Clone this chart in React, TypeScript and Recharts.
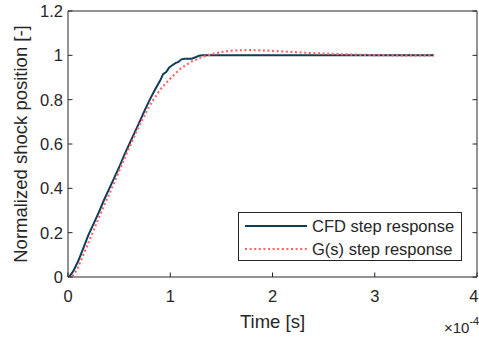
import React from "react";
import { LineChart, Line, XAxis, YAxis, Legend } from "recharts";

// Time axis values are in units of 1e-4 s (the axis carries a ×10^-4 multiplier).
const cfdTime = [0, 0.01, 0.05, 0.1, 0.15, 0.2, 0.25, 0.3, 0.35, 0.4, 0.45, 0.5, 0.55, 0.6, 0.65, 0.7, 0.75, 0.8, 0.85, 0.9, 0.93, 0.96, 0.99, 1.02, 1.05, 1.08, 1.11, 1.14, 1.21, 1.24, 1.28, 1.32, 3.58];
const cfdValue = [0, 0, 0.025, 0.072, 0.13, 0.19, 0.24, 0.29, 0.345, 0.395, 0.445, 0.495, 0.55, 0.6, 0.65, 0.7, 0.752, 0.8, 0.845, 0.885, 0.915, 0.925, 0.945, 0.955, 0.965, 0.97, 0.982, 0.985, 0.985, 0.99, 0.998, 1.0, 1.0];

const gsTime = [0, 0.03, 0.06, 0.1, 0.15, 0.2, 0.25, 0.3, 0.35, 0.4, 0.5, 0.6, 0.7, 0.8, 0.9, 1.0, 1.1, 1.2, 1.3, 1.4, 1.5, 1.6, 1.75, 1.9, 2.0, 2.2, 2.4, 2.6, 2.8, 3.0, 3.2, 3.4, 3.58];
const gsValue = [0, 0, 0.012, 0.045, 0.1, 0.155, 0.21, 0.265, 0.32, 0.37, 0.478, 0.585, 0.685, 0.775, 0.845, 0.895, 0.94, 0.97, 0.99, 1.005, 1.015, 1.021, 1.024, 1.022, 1.02, 1.015, 1.01, 1.006, 1.003, 1.001, 1.0, 1.0, 1.0];

const xTicks = [0, 1, 2, 3, 4];
const yTicks = [0, 0.2, 0.4, 0.6, 0.8, 1, 1.2];
const yTickLabels = ["0", "0.2", "0.4", "0.6", "0.8", "1", "1.2"];

const seriesNames = ["CFD step response", "G(s) step response"];
const xLabel = "Time [s]";
const yLabel = "Normalized shock position [-]";
const xMultiplierBase = "×10";
const xMultiplierExp = "-4";

const cfdData = cfdTime.map((t, i) => ({ t, v: cfdValue[i] }));
const gsData = gsTime.map((t, i) => ({ t, v: gsValue[i] }));

const WIDTH = 479;
const HEIGHT = 339;
const AXIS = "#262626";
const CFD_COLOR = "#0e3d5c";
const GS_COLOR = "#ff6464";
const FONT = "'Liberation Sans', Arial, Helvetica, sans-serif";
const TICK_FONT = 16.5;
const TICK_LEN = 4.5;
const MARGIN = 10;

const BottomTick = (props: any) => {
  const { x, y, payload } = props;
  const axisY = y - MARGIN;
  const label = String(payload.value);
  // keep the last label inside the canvas
  const half = label.length * TICK_FONT * 0.28;
  const lx = Math.min(x, WIDTH - half - 0.5);
  return (
    <g>
      <line x1={x} x2={x} y1={axisY} y2={axisY - TICK_LEN} stroke={AXIS} strokeWidth={1} />
      <text x={lx} y={axisY + 24.5} textAnchor="middle" fill={AXIS} fontSize={TICK_FONT} fontFamily={FONT}>
        {label}
      </text>
    </g>
  );
};

const TopTick = (props: any) => {
  const { x, y } = props;
  const axisY = y + MARGIN;
  return <line x1={x} x2={x} y1={axisY} y2={axisY + TICK_LEN} stroke={AXIS} strokeWidth={1} />;
};

const LeftTick = (props: any) => {
  const { x, y, payload } = props;
  const axisX = x + MARGIN;
  const idx = yTicks.findIndex((v) => Math.abs(v - payload.value) < 1e-9);
  return (
    <g>
      <line x1={axisX} x2={axisX + TICK_LEN} y1={y} y2={y} stroke={AXIS} strokeWidth={1} />
      <text x={axisX - 5} y={y + 6} textAnchor="end" fill={AXIS} fontSize={TICK_FONT} fontFamily={FONT}>
        {idx >= 0 ? yTickLabels[idx] : String(payload.value)}
      </text>
    </g>
  );
};

const RightTick = (props: any) => {
  const { x, y } = props;
  const axisX = x - MARGIN;
  return <line x1={axisX} x2={axisX - TICK_LEN} y1={y} y2={y} stroke={AXIS} strokeWidth={1} />;
};

const XLabel = (props: any) => {
  const { viewBox } = props;
  const cx = viewBox.x + viewBox.width / 2;
  const top = viewBox.y;
  return (
    <g>
      <text x={cx} y={top + 51} textAnchor="middle" fill={AXIS} fontSize={18.5} fontFamily={FONT}>
        {xLabel}
      </text>
      <text x={viewBox.x + viewBox.width - 33} y={top + 56} textAnchor="start" fill={AXIS} fontFamily={FONT}>
        <tspan fontSize={15}>{xMultiplierBase}</tspan>
        <tspan fontSize={11} dy={-8}>{xMultiplierExp}</tspan>
      </text>
    </g>
  );
};

const YLabel = (props: any) => {
  const { viewBox } = props;
  const cy = viewBox.y + viewBox.height / 2;
  const bx = 26.5;
  return (
    <text
      x={bx}
      y={cy}
      transform={`rotate(-90 ${bx} ${cy})`}
      textAnchor="middle"
      fill={AXIS}
      fontSize={18.5}
      fontFamily={FONT}
    >
      {yLabel}
    </text>
  );
};

const LegendBox = () => (
  <div
    style={{
      boxSizing: "border-box",
      width: 224,
      height: 49,
      border: `1px solid ${AXIS}`,
      background: "#fff",
      fontFamily: FONT,
      fontSize: 16.5,
      position: "relative",
    }}
  >
    {seriesNames.map((name, i) => (
      <div
        key={name}
        style={{ position: "absolute", left: 6, top: i === 0 ? 3 : 25.5, height: 20, display: "flex", alignItems: "center", whiteSpace: "nowrap" }}
      >
        <svg width={62} height={20} style={{ display: "block" }}>
          <line
            x1={0}
            x2={62}
            y1={10}
            y2={10}
            stroke={i === 0 ? CFD_COLOR : GS_COLOR}
            strokeWidth={2}
            strokeDasharray={i === 0 ? undefined : "2 2.6"}
          />
        </svg>
        <span style={{ marginLeft: 5, lineHeight: "20px", color: AXIS }}>{name}</span>
      </div>
    ))}
  </div>
);

export default function App() {
  return (
    <div style={{ position: "absolute", left: 0, top: 0, width: WIDTH, height: HEIGHT, background: "#fff" }}>
      <LineChart width={WIDTH} height={HEIGHT} margin={{ top: 10, right: 0, bottom: 0, left: 0 }} style={{ fontFamily: FONT }}>
        <XAxis
          dataKey="t"
          type="number"
          domain={[0, 4]}
          ticks={xTicks}
          interval={0}
          allowDataOverflow
          height={62}
          tickSize={0}
          tickMargin={MARGIN}
          tickLine={false}
          axisLine={{ stroke: AXIS, strokeWidth: 1 }}
          tick={<BottomTick />}
          label={<XLabel />}
        />
        <XAxis
          xAxisId="top"
          orientation="top"
          type="number"
          domain={[0, 4]}
          ticks={xTicks}
          interval={0}
          allowDataOverflow
          height={1}
          tickSize={0}
          tickMargin={MARGIN}
          tickLine={false}
          axisLine={{ stroke: AXIS, strokeWidth: 1 }}
          tick={<TopTick />}
        />
        <YAxis
          type="number"
          domain={[0, 1.2]}
          ticks={yTicks}
          interval={0}
          allowDataOverflow
          width={68}
          tickSize={0}
          tickMargin={MARGIN}
          tickLine={false}
          axisLine={{ stroke: AXIS, strokeWidth: 1 }}
          tick={<LeftTick />}
          label={<YLabel />}
        />
        <YAxis
          yAxisId="right"
          orientation="right"
          type="number"
          domain={[0, 1.2]}
          ticks={yTicks}
          interval={0}
          allowDataOverflow
          width={2}
          tickSize={0}
          tickMargin={MARGIN}
          tickLine={false}
          axisLine={{ stroke: AXIS, strokeWidth: 1 }}
          tick={<RightTick />}
        />
        <Legend
          layout="vertical"
          align="center"
          verticalAlign="middle"
          wrapperStyle={{ left: 238, top: 212, width: 224, height: 49 }}
          content={<LegendBox />}
        />
        <Line
          data={cfdData}
          dataKey="v"
          name={seriesNames[0]}
          type="linear"
          stroke={CFD_COLOR}
          strokeWidth={2}
          dot={false}
          activeDot={false}
          isAnimationActive={false}
        />
        <Line
          data={gsData}
          dataKey="v"
          name={seriesNames[1]}
          type="linear"
          stroke={GS_COLOR}
          strokeWidth={2.2}
          strokeDasharray="2 2.6"
          dot={false}
          activeDot={false}
          isAnimationActive={false}
        />
      </LineChart>
    </div>
  );
}
